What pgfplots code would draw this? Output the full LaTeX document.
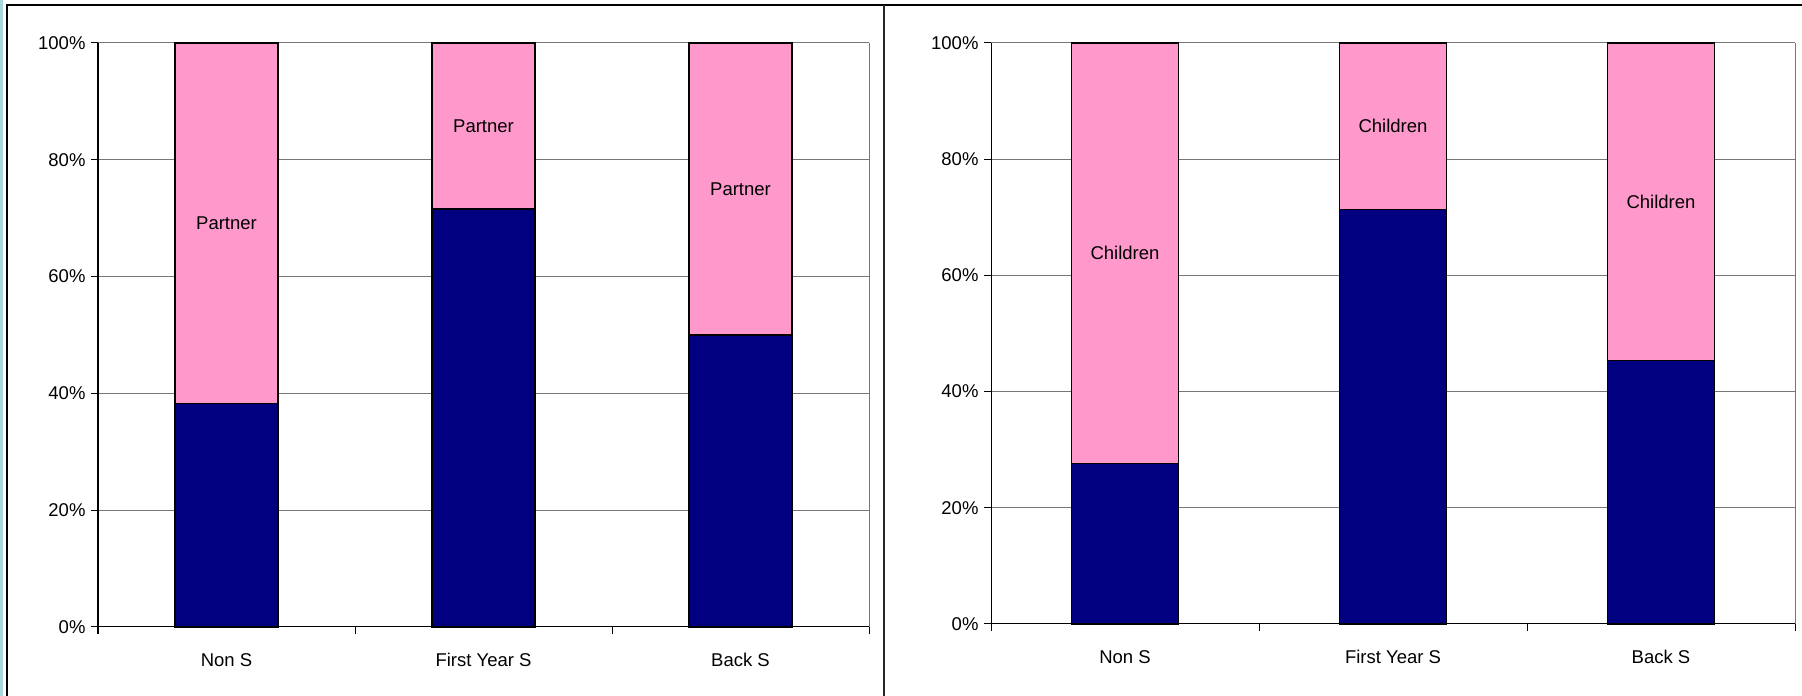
\documentclass[border=0pt]{standalone}
\usepackage{fontspec}
\setmainfont{Liberation Sans}
\usepackage{pgfplots}
\pgfplotsset{compat=1.18}

\definecolor{barnavy}{HTML}{000080}
\definecolor{barpink}{HTML}{FF99CC}
\definecolor{gridgray}{HTML}{777777}
\definecolor{edgeteal}{HTML}{A8D8DC}

\newcommand{\chartfont}{\fontsize{18.5}{22}\selectfont}

\pgfplotsset{
  panel/.style={
    scale only axis,
    ybar stacked,
    bar width=0.4,
    bar shift=0pt,
    ymin=0, ymax=100,
    xmin=-0.5, xmax=2.5,
    axis lines=left,
    axis line style={-, black, line width=1pt},
    ytick={0,20,40,60,80,100},
    yticklabel={\pgfmathprintnumber{\tick}\%},
    xtick={0,1,2},
    xticklabels={Non S, First Year S, Back S},
    minor xtick={-0.5,0.5,1.5,2.5},
    tick align=outside,
    major tick length=7pt,
    minor tick length=7pt,
    major x tick style={draw=none},
    minor x tick style={black, line width=1pt},
    major y tick style={black, line width=1pt},
    ymajorgrids,
    major grid style={gridgray, line width=1pt},
    tick label style={font=\chartfont},
    /pgf/number format/assume math mode=true,
    yticklabel style={xshift=-2pt},
    xticklabel style={yshift=-16pt},
    every axis plot/.append style={draw=black, line width=1.3pt},
    clip=false,
  },
}
\tikzset{seglabel/.style={font=\chartfont, text=black}}

\begin{document}
\begin{tikzpicture}
  \useasboundingbox (0pt,0pt) rectangle (1802pt,696pt);

  % outer frame of the two panels
  \fill[edgeteal] (0pt,0pt) rectangle (2.5pt,696pt);
  \draw[black, line width=1.5pt] (7pt,0pt) -- (7pt,691pt) -- (1802pt,691pt);
  \draw[black!85, line width=2.5pt] (884pt,0pt) -- (884pt,691pt);

  % left panel: Partner
  \begin{axis}[panel, at={(98pt,69pt)}, anchor=south west, width=771pt, height=584pt]
    \addplot[fill=barnavy] coordinates {(0,38.3) (1,71.6) (2,50.0)};
    \addplot[fill=barpink] coordinates {(0,61.7) (1,28.4) (2,50.0)};
    \coordinate (lr0) at (rel axis cs:1,0);
    \coordinate (lr1) at (rel axis cs:1,1);
    \coordinate (la) at (axis cs:0,{(38.3+100)/2});
    \coordinate (lb) at (axis cs:1,{(71.6+100)/2});
    \coordinate (lc) at (axis cs:2,{(50.0+100)/2});
  \end{axis}
  \draw[gridgray, line width=1pt] (lr0) -- (lr1);
  \node[seglabel] at (la) {Partner};
  \node[seglabel] at (lb) {Partner};
  \node[seglabel] at (lc) {Partner};

  % right panel: Children
  \begin{axis}[panel, at={(991pt,72pt)}, anchor=south west, width=804pt, height=581pt]
    \addplot[fill=barnavy] coordinates {(0,27.6) (1,71.4) (2,45.4)};
    \addplot[fill=barpink] coordinates {(0,72.4) (1,28.6) (2,54.6)};
    \coordinate (rr0) at (rel axis cs:1,0);
    \coordinate (rr1) at (rel axis cs:1,1);
    \coordinate (ra) at (axis cs:0,{(27.6+100)/2});
    \coordinate (rb) at (axis cs:1,{(71.4+100)/2});
    \coordinate (rc) at (axis cs:2,{(45.4+100)/2});
  \end{axis}
  \draw[gridgray, line width=1pt] (rr0) -- (rr1);
  \node[seglabel] at (ra) {Children};
  \node[seglabel] at (rb) {Children};
  \node[seglabel] at (rc) {Children};
\end{tikzpicture}
\end{document}
